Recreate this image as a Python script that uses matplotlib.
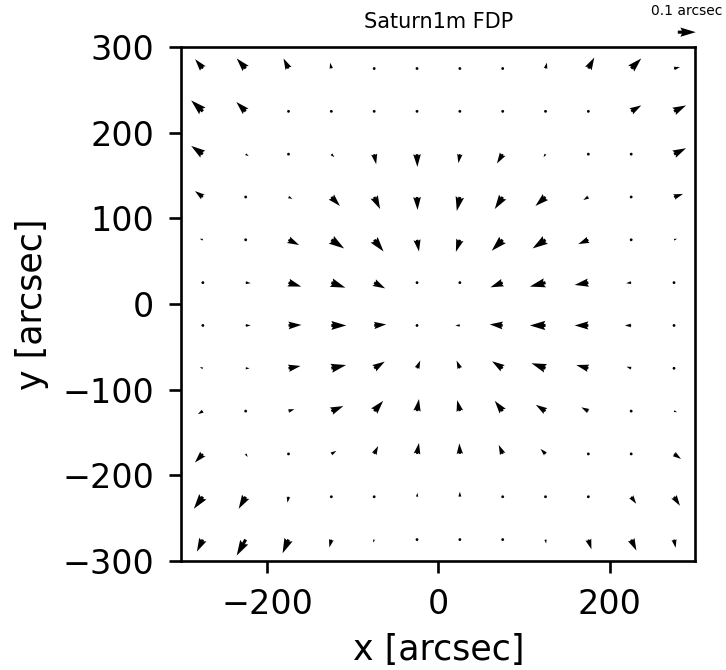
import numpy as np
import matplotlib
matplotlib.use("Agg")
import matplotlib.pyplot as plt

# field positions [arcsec]
xpos = [-275, -225, -175, -125, -75, -25, 25, 75, 125, 175, 225, 275]
ypos = [275, 225, 175, 125, 75, 25, -25, -75, -125, -175, -225, -275]

# distortion vectors [mas], one row per ypos, columns follow xpos
dx_mas = [
    [-43, -50, -28, -7, 0, 0, 0, 0, 8, 33, 56, 33],
    [-65, -52, 11, 0, 0, 0, 3, 6, 0, 8, 56, 67],
    [-65, 17, 0, 17, 11, 2, -8, -32, -11, 0, 8, 67],
    [-44, 0, 22, 48, 33, 3, -17, -44, -56, -28, 0, 50],
    [-17, -6, 59, 71, 52, 11, -22, -61, -72, -56, -6, 17],
    [-11, 28, 71, 78, 61, 6, -11, -68, -87, -76, -28, 6],
    [-6, 28, 72, 83, 67, 6, -25, -72, -87, -76, -35, -6],
    [-17, 22, 67, 82, 59, 18, -18, -59, -78, -67, -26, -6],
    [-28, 0, 33, 67, 50, 11, -15, -44, -54, -39, 0, 17],
    [-44, 11, 11, 28, 22, 11, -3, -22, -28, -6, 6, 39],
    [-50, -39, -6, 0, 6, 3, 0, 6, 0, 3, 28, 33],
    [-33, -50, -33, -11, -6, 0, 0, 0, 3, 17, 29, 9],
]
dy_mas = [
    [52, 56, 56, 32, 17, 6, 3, 11, 33, 61, 56, 8],
    [61, 52, -6, 0, -11, -17, -14, -8, 0, 6, 33, 33],
    [46, -11, 0, -17, -56, -71, -50, -52, -17, 0, 4, 33],
    [33, 0, -11, -50, -67, -72, -78, -67, -50, -17, 0, 17],
    [6, 0, -29, -48, -65, -65, -67, -61, -48, -24, 0, 6],
    [0, -3, -22, -28, -32, -8, -11, -26, -22, -13, -3, 6],
    [0, 0, 3, 0, 6, 0, 0, 6, 0, 0, 0, 6],
    [6, 0, 13, 18, 37, 43, 43, 39, 28, 18, 9, 0],
    [-17, 0, 11, 28, 57, 67, 61, 57, 35, 21, 0, -6],
    [-48, -17, 0, 17, 44, 61, 59, 50, 28, 0, -6, -28],
    [-67, -67, -33, 0, 6, 22, 28, 11, 0, -11, -39, -50],
    [-67, -89, -76, -44, -17, 0, 0, 0, -22, -54, -61, -46],
]

X, Y = np.meshgrid(xpos, ypos)
U = np.array(dx_mas) / 1000.0
V = np.array(dy_mas) / 1000.0

fig = plt.figure(figsize=(7.26, 6.70), dpi=100)
ax = fig.add_axes([0.2499, 0.1627, 0.708, 0.767])

q = ax.quiver(X, Y, U, V, angles='xy', scale_units='xy', scale=0.1 / 21.0,
              width=0.006)
ax.quiverkey(q, 0.946, 0.952, 0.1, '0.1 arcsec', coordinates='figure',
             labelpos='N', labelsep=0.14, fontproperties={'size': 10})

ax.set_xlim(-300, 300)
ax.set_ylim(-300, 300)
ax.set_xticks([-200, 0, 200])
ax.set_yticks([-300, -200, -100, 0, 100, 200, 300])
ax.tick_params(labelsize=24, length=8.4, width=1.9, pad=11)
for s in ax.spines.values():
    s.set_linewidth(1.9)

ax.set_xlabel('x [arcsec]', fontsize=25, labelpad=9)
ax.set_ylabel('y [arcsec]', fontsize=25, labelpad=10)
ax.set_title('Saturn1m FDP', fontsize=15, pad=14)

plt.savefig('out.png', dpi=100)
